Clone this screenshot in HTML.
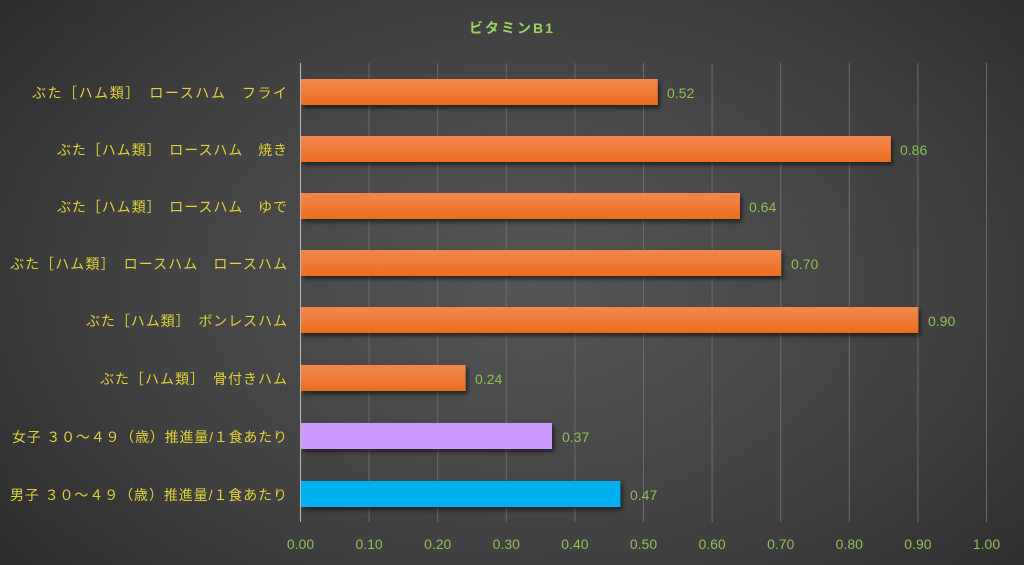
<!DOCTYPE html>
<html><head><meta charset="utf-8"><style>
html,body{margin:0;padding:0;}
body{width:1024px;height:565px;overflow:hidden;background:radial-gradient(ellipse 75% 90% at 52% 50%,#555 0%,#404040 55%,#262626 100%);}
svg{display:block;font-family:"Liberation Sans","Noto Sans CJK JP",sans-serif;}
</style></head><body>
<svg width="1024" height="565" viewBox="0 0 1024 565">
<defs>
<linearGradient id="og" x1="0" y1="0" x2="0" y2="1"><stop offset="0" stop-color="#f3874f"/><stop offset="1" stop-color="#ea6e1e"/></linearGradient>
<filter id="sh" x="-5%" y="-20%" width="110%" height="160%"><feDropShadow dx="2" dy="3" stdDeviation="2" flood-color="#000" flood-opacity="0.55"/></filter>
</defs>
<text x="512" y="33" text-anchor="middle" font-size="14" font-weight="bold" fill="#9ad35e" letter-spacing="2">ビタミンB1</text>
<g stroke="#6a6a6a" stroke-width="1">
<line x1="369.1" y1="63" x2="369.1" y2="522"/><line x1="437.7" y1="63" x2="437.7" y2="522"/><line x1="506.3" y1="63" x2="506.3" y2="522"/><line x1="574.9" y1="63" x2="574.9" y2="522"/><line x1="643.5" y1="63" x2="643.5" y2="522"/><line x1="712.1" y1="63" x2="712.1" y2="522"/><line x1="780.7" y1="63" x2="780.7" y2="522"/><line x1="849.3" y1="63" x2="849.3" y2="522"/><line x1="917.9" y1="63" x2="917.9" y2="522"/><line x1="986.5" y1="63" x2="986.5" y2="522"/>
</g>
<g filter="url(#sh)">
<rect x="301" y="79" width="356.7" height="26" fill="url(#og)"/>
<rect x="301" y="136" width="589.9" height="26" fill="url(#og)"/>
<rect x="301" y="193" width="439" height="26" fill="url(#og)"/>
<rect x="301" y="250" width="480.2" height="26" fill="url(#og)"/>
<rect x="301" y="307" width="617.4" height="26" fill="url(#og)"/>
<rect x="301" y="365" width="164.6" height="26" fill="url(#og)"/>
<rect x="301" y="423" width="251" height="26" fill="#cc99ff"/>
<rect x="301" y="481" width="319.4" height="26" fill="#00b0f0"/>
</g>
<line x1="300.5" y1="63" x2="300.5" y2="522" stroke="#bbb" stroke-width="1"/>
<g font-size="14" fill="#8fbf5a">
<text x="667" y="98">0.52</text><text x="900" y="155">0.86</text><text x="749" y="212">0.64</text><text x="791" y="269">0.70</text><text x="928" y="326">0.90</text><text x="475" y="384">0.24</text><text x="562" y="442">0.37</text><text x="630" y="500">0.47</text>
</g>
<g font-size="14" fill="#8fbf5a" text-anchor="middle">
<text x="300.5" y="549">0.00</text><text x="369.1" y="549">0.10</text><text x="437.7" y="549">0.20</text><text x="506.3" y="549">0.30</text><text x="574.9" y="549">0.40</text><text x="643.5" y="549">0.50</text><text x="712.1" y="549">0.60</text><text x="780.7" y="549">0.70</text><text x="849.3" y="549">0.80</text><text x="917.9" y="549">0.90</text><text x="986.5" y="549">1.00</text>
</g>
<g font-size="14" fill="#e0d23a" lengthAdjust="spacing">
<text x="32" y="98" textLength="255">ぶた［ハム類］　ロースハム　フライ</text>
<text x="57" y="155" textLength="230">ぶた［ハム類］　ロースハム　焼き</text>
<text x="57" y="212" textLength="230">ぶた［ハム類］　ロースハム　ゆで</text>
<text x="10" y="269" textLength="277">ぶた［ハム類］　ロースハム　ロースハム</text>
<text x="86" y="326" textLength="201">ぶた［ハム類］　ボンレスハム</text>
<text x="100" y="384" textLength="187">ぶた［ハム類］　骨付きハム</text>
<text x="12" y="442" textLength="275">女子 ３０～４９（歳）推進量/１食あたり</text>
<text x="10" y="500" textLength="277">男子 ３０～４９（歳）推進量/１食あたり</text>
</g>
</svg>
</body></html>
